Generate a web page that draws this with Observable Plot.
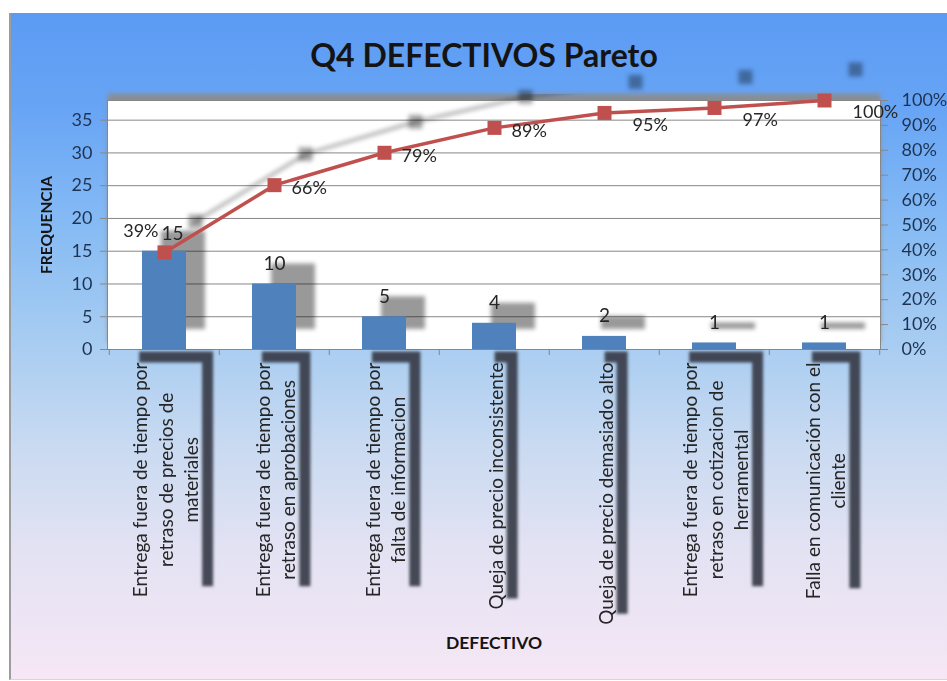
<!DOCTYPE html>
<html>
<head>
<meta charset="utf-8">
<script src="https://cdn.jsdelivr.net/npm/d3@7"></script>
<script src="https://cdn.jsdelivr.net/npm/@observablehq/plot@0.6"></script>
<style>
  html, body { margin: 0; padding: 0; background: #ffffff; }
  #page {
    position: absolute; left: 9px; top: 13px; width: 938px; height: 667px;
    box-sizing: border-box; border-left: 2px solid #9c9c9c; border-bottom: 1px solid #d6d6d6;
    background: linear-gradient(to bottom, #5b9bf3 0%, #67a4f5 14%, #86bbf4 32%, #a9cdf1 50%, #c9daf1 65%, #e2e2f3 80%, #f6e7f5 100%);
    font-family: Lato, "Open Sans", sans-serif;
  }
  #title {
    height: 59px; box-sizing: border-box; padding-top: 24px; padding-left: 10px;
    text-align: center; font-weight: bold; font-size: 32px; line-height: 36px; color: #141414;
  }
  #chart svg { display: block; overflow: visible; }
</style>
</head>
<body>
<div id="page">
  <div id="title">Q4 DEFECTIVOS Pareto</div>
  <div id="chart"></div>
</div>
<script>
// Defect categories, sorted by frequency (Pareto order)
const categories = [
  "Entrega fuera de tiempo por retraso de precios de materiales",
  "Entrega fuera de tiempo por retraso en aprobaciones",
  "Entrega fuera de tiempo por falta de informacion",
  "Queja de precio inconsistente",
  "Queja de precio demasiado alto",
  "Entrega fuera de tiempo por retraso en cotizacion de herramental",
  "Falla en comunicación con el cliente"
];
// Axis text for each category, broken into lines
const categoryLines = [
  "Entrega fuera de tiempo por\nretraso de precios de\nmateriales",
  "Entrega fuera de tiempo por\nretraso en aprobaciones",
  "Entrega fuera de tiempo por\nfalta de informacion",
  "Queja de precio inconsistente",
  "Queja de precio demasiado alto",
  "Entrega fuera de tiempo por\nretraso en cotizacion de\nherramental",
  "Falla en comunicación con el\ncliente"
];
// Frequency of each defect
const counts = [15, 10, 5, 4, 2, 1, 1];
// Cumulative share of all defects, in percent
const cumulativePct = [39, 66, 79, 89, 95, 97, 100];
// Tick values for the frequency (left) and percent (right) axes
const countTicks = [0, 5, 10, 15, 20, 25, 30, 35];
const pctTicks = [0, 10, 20, 30, 40, 50, 60, 70, 80, 90, 100];

const total = d3.sum(counts);
const rows = categories.map((cat, i) => ({
  i, cat, label: categoryLines[i], count: counts[i], pct: cumulativePct[i],
  cum: cumulativePct[i] / 100 * total
}));

const W = 936, H = 607;
const M = {top: 28, right: 67, bottom: 330, left: 96};
const step = (W - M.left - M.right) / categories.length;

const barBlue = "#4f81bd";
const lineRed = "#c0504d";
const gridGrey = "#878787";
const axisNavy = "#1e3352";
const textDark = "#262626";

const plot = Plot.plot({
  width: W, height: H,
  marginTop: M.top, marginRight: M.right, marginBottom: M.bottom, marginLeft: M.left,
  style: {background: "transparent", fontFamily: "Lato, 'Open Sans', sans-serif", fontSize: "17px", overflow: "visible"},
  x: {domain: categories, paddingInner: 0.6, paddingOuter: 0.3, axis: null},
  y: {domain: [0, total], axis: null},
  marks: [
    // soft grey shadow along the top of the plotting area
    Plot.frame({fill: "#8c8c8c", fillOpacity: 0.9, dy: -7, ariaDescription: "shadow"}),
    Plot.frame({fill: "white"}),
    // faint shadow of the category axis line
    Plot.ruleY([0], {dy: -11, stroke: "#000", strokeOpacity: 0.12, strokeWidth: 3, ariaDescription: "shadow"}),
    // horizontal gridlines (with outward tick on the left)
    Plot.ruleY(countTicks, {stroke: gridGrey, strokeWidth: 1, insetLeft: -7}),
    // bar and line shadows
    Plot.barY(rows, {x: "cat", y: "count", dx: 19, dy: -20, fill: "#000", fillOpacity: 0.4, ariaDescription: "shadow"}),
    Plot.line(rows, {x: "cat", y: "cum", dx: 31, dy: -31, stroke: "#000", strokeOpacity: 0.3, strokeWidth: 3.5, ariaDescription: "clipped-shadow"}),
    Plot.dot(rows, {x: "cat", y: "cum", dx: 31, dy: -31, symbol: "square", r: 7.9, fill: "#000", fillOpacity: 0.35, stroke: null, ariaDescription: "shadow"}),
    // frequency bars
    Plot.barY(rows, {x: "cat", y: "count", fill: barBlue}),
    // plot-area border (left / right value axes and category axis)
    Plot.frame({stroke: gridGrey, strokeWidth: 1}),
    // category tick marks between bars
    Plot.axisX({ticks: categories, tickSize: 6, tickFormat: () => "", dx: -step / 2, color: gridGrey, label: null}),
    Plot.axisX({ticks: categories.slice(-1), tickSize: 6, tickFormat: () => "", dx: step / 2, color: gridGrey, label: null}),
    // left axis labels
    Plot.axisY({anchor: "left", ticks: countTicks, tickSize: 0, tickPadding: 15, fontSize: 18, color: axisNavy, label: null}),
    // right axis: ticks and percent labels
    Plot.axisY({anchor: "right", ticks: pctTicks.map(p => p / 100 * total), tickSize: 7, tickFormat: () => "", color: gridGrey, label: null}),
    Plot.axisY({anchor: "right", ticks: pctTicks.map(p => p / 100 * total), tickSize: 0, tickPadding: 21, fontSize: 18,
      tickFormat: d => Math.round(d / total * 100) + "%", color: axisNavy, label: null}),
    // cumulative percentage line
    Plot.line(rows, {x: "cat", y: "cum", stroke: lineRed, strokeWidth: 3.5}),
    Plot.dot(rows, {x: "cat", y: "cum", symbol: "square", r: 7.9, fill: lineRed, stroke: null}),
    // value labels above bars
    Plot.text(rows, {filter: d => d.i === 0, x: "cat", y: "count", text: d => String(d.count), dx: 8, dy: -17, fontSize: 19, fill: textDark}),
    Plot.text(rows, {filter: d => d.i > 0, x: "cat", y: "count", text: d => String(d.count), dy: -20, fontSize: 19, fill: textDark}),
    // cumulative percentage labels
    Plot.text(rows, {filter: d => d.i === 0, x: "cat", y: "cum", text: d => d.pct + "%", textAnchor: "end", dx: -6, dy: -21, fontSize: 18, fill: textDark}),
    Plot.text(rows, {filter: d => d.i >= 1 && d.i <= 3, x: "cat", y: "cum", text: d => d.pct + "%", textAnchor: "start", dx: 17, dy: 3, fontSize: 18, fill: textDark}),
    Plot.text(rows, {filter: d => d.i >= 4, x: "cat", y: "cum", text: d => d.pct + "%", textAnchor: "start", dx: 28, dy: 12, fontSize: 18, fill: textDark}),
    // rotated category names
    Plot.text(rows, {x: "cat", text: "label", frameAnchor: "bottom", dy: 13, rotate: -90,
      textAnchor: "end", lineAnchor: "middle", lineHeight: 1.34, fontSize: 19, fill: textDark, ariaDescription: "category-labels"}),
    // axis titles
    Plot.text(["FREQUENCIA"], {frameAnchor: "left", dx: -60, rotate: -90, textAnchor: "middle", lineAnchor: "middle",
      fontWeight: "bold", fontSize: 15.5, fill: "#141414"}),
    Plot.text(["DEFECTIVO"], {frameAnchor: "bottom", dy: 294, textAnchor: "middle", lineAnchor: "middle",
      fontWeight: "bold", fontSize: 17.5, fill: "#141414"})
  ]
});
document.getElementById("chart").appendChild(plot);

// Blur filters for the shadow layers
const svg = d3.select(plot);
const defs = svg.insert("defs", ":first-child");
defs.append("filter").attr("id", "soft").attr("x", "-20%").attr("y", "-20%").attr("width", "140%").attr("height", "140%")
  .append("feGaussianBlur").attr("stdDeviation", 2);
defs.append("filter").attr("id", "soft-label").attr("x", "-30%").attr("y", "-10%").attr("width", "160%").attr("height", "120%")
  .append("feGaussianBlur").attr("stdDeviation", 1.5);
defs.append("clipPath").attr("id", "plot-area").append("rect")
  .attr("x", M.left).attr("y", M.top - 6).attr("width", W - M.left - M.right).attr("height", H - M.top - M.bottom + 6);

svg.selectAll('[aria-description="shadow"]').attr("filter", "url(#soft)");
svg.selectAll('[aria-description="clipped-shadow"]').each(function () {
  const wrap = d3.select(this.parentNode).insert("g", () => this).attr("clip-path", "url(#plot-area)");
  wrap.node().appendChild(this);
  d3.select(this).attr("filter", "url(#soft)");
});

// Centre the lines of each category name and add its box shadow
const svgBox = plot.getBoundingClientRect();
const labelGroup = svg.select('[aria-description="category-labels"]');
const shadowLayer = d3.select(labelGroup.node().parentNode).insert("g", () => labelGroup.node())
  .attr("filter", "url(#soft-label)");
labelGroup.selectAll("text").each(function () {
  const t = d3.select(this);
  const spans = t.selectAll("tspan").nodes();
  const parts = spans.length ? spans : [this];
  const L = d3.max(parts, n => n.getComputedTextLength());
  t.attr("text-anchor", "middle");
  if (spans.length) spans.forEach(s => s.setAttribute("x", -L / 2));
  else t.attr("x", -L / 2);
  const b = this.getBoundingClientRect();
  const x = b.left - svgBox.left, y = b.top - svgBox.top, w = b.width, h = b.height;
  const o = 11;
  // the part of the offset box that lies outside the text box: a strip on top and one on the right
  shadowLayer.append("path")
    .attr("fill", "#363b48")
    .attr("fill-opacity", 0.92)
    .attr("d", `M${x + o},${y - o}H${x + w + o}V${y + h - o}H${x + w}V${y}H${x + o}Z`);
});
</script>
</body>
</html>
